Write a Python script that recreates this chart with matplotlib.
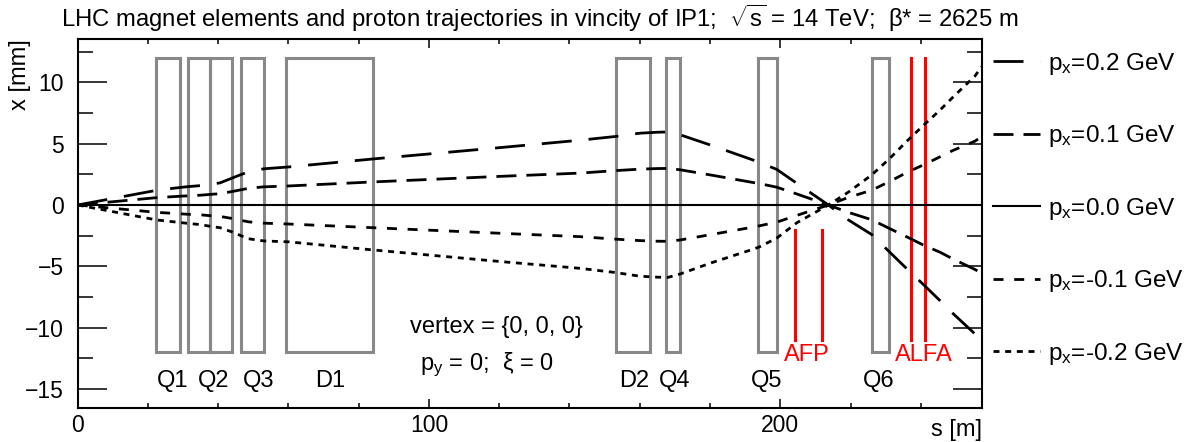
import matplotlib

matplotlib.use("Agg")
import matplotlib.pyplot as plt
from matplotlib.patches import Rectangle
from matplotlib.ticker import MultipleLocator

plt.rcParams["font.family"] = ["Liberation Sans", "DejaVu Sans"]
plt.rcParams["mathtext.fontset"] = "custom"
plt.rcParams["mathtext.rm"] = "Liberation Sans"
plt.rcParams["mathtext.it"] = "Liberation Sans:italic"
plt.rcParams["lines.scale_dashes"] = False

# s position along the beam line [m]
s_pts = [0, 22.5, 29.5, 31.5, 35, 38, 40.5, 44, 46.5, 48.6, 53, 60, 84, 120,
         143, 153, 160, 165, 168, 171.5, 180.5, 192.3, 194, 199, 204.7, 213.7,
         219.4, 226, 231, 236.4, 241, 245.5, 249.2, 255.4, 257.3]

# horizontal position x [mm] for each px
x_p02 = [0, 1.2, 1.44, 1.5, 1.58, 1.7, 1.8, 2.2, 2.48, 2.71, 2.95, 3.1, 3.75,
         4.67, 5.28, 5.58, 5.85, 5.93, 5.95, 5.72, 4.85, 3.66, 3.48, 2.9, 1.77,
         0, -1.22, -2.4, -3.8, -5.3, -6.55, -7.8, -8.85, -10.5, -11.0]
x_p01 = [0, 0.6, 0.72, 0.75, 0.8, 0.87, 0.92, 1.1, 1.24, 1.36, 1.48, 1.55, 1.88,
         2.33, 2.6, 2.8, 2.92, 2.97, 2.98, 2.87, 2.43, 1.83, 1.75, 1.45, 0.9,
         0, -0.6, -1.2, -1.9, -2.65, -3.3, -3.85, -4.4, -5.25, -5.55]
x_p00 = [0] * len(s_pts)
x_m01 = [0, -0.6, -0.72, -0.76, -0.8, -0.88, -0.93, -1.1, -1.25, -1.37, -1.48,
         -1.55, -1.85, -2.3, -2.58, -2.78, -2.9, -2.95, -2.96, -2.85, -2.4,
         -1.8, -1.7, -1.4, -0.85, 0, 0.62, 1.2, 1.9, 2.7, 3.3, 3.93, 4.45, 5.2,
         5.56]
x_m02 = [0, -1.22, -1.44, -1.5, -1.6, -1.75, -1.85, -2.2, -2.5, -2.75, -2.93,
         -3.0, -3.66, -4.6, -5.16, -5.5, -5.8, -5.88, -5.9, -5.62, -4.7, -3.6,
         -3.42, -2.7, -1.45, 0, 1.05, 2.44, 3.75, 5.3, 6.55, 7.74, 8.8, 10.5,
         11.26]

px_labels = ["0.2", "0.1", "0.0", "-0.1", "-0.2"]

# magnets: start, end [m], aperture half-height [mm]
magnet_start = [22.3, 31.4, 37.6, 46.4, 59.2, 153.1, 167.6, 193.8, 226.0]
magnet_end = [29.1, 37.6, 43.8, 53.0, 84.2, 162.9, 171.4, 199.1, 231.0]
magnet_half = 12.0
label_names = ["Q1", "Q2", "Q3", "D1", "D2", "Q4", "Q5", "Q6"]
label_s = [26.9, 38.8, 51.6, 72.0, 158.5, 170.0, 196.2, 228.1]

# detectors (roman pots)
afp_s = [204.1, 211.9]
afp_x = [-2.0, -11.0]
alfa_s = [237.2, 241.1]
alfa_x = [12.0, -11.0]


def main():
    fig = plt.figure(figsize=(11.91, 4.42), dpi=100)
    ax = fig.add_axes([0.06524, 0.07805, 0.7589, 0.8330])

    for i in range(len(magnet_start)):
        ax.add_patch(Rectangle((magnet_start[i], -magnet_half),
                               magnet_end[i] - magnet_start[i], 2 * magnet_half,
                               fill=False, edgecolor="#888888", lw=2.2))
    for i in range(len(label_names)):
        ax.text(label_s[i], -14.3, label_names[i], ha="center", va="center",
                fontsize=17)

    for s in afp_s:
        ax.plot([s, s], afp_x, color="red", lw=2.2)
    for s in alfa_s:
        ax.plot([s, s], alfa_x, color="red", lw=2.2)
    ax.text(207.7, -12.2, "AFP", color="red", ha="center", va="center", fontsize=17)
    ax.text(241.0, -12.2, "ALFA", color="red", ha="center", va="center", fontsize=17)

    # trajectories
    styles = [(0, (21.6, 12.2)), (0, (14.4, 7.2)), "-", (0, (7.2, 7.7)), (0, (4.3, 4.1))]
    widths = [2.0, 2.0, 1.5, 2.0, 2.0]
    tracks = [x_p02, x_p01, x_p00, x_m01, x_m02]
    handles = []
    for i in range(len(tracks)):
        (h,) = ax.plot(s_pts, tracks[i], color="black", linestyle=styles[i],
                       lw=widths[i], dash_capstyle="butt")
        handles.append(h)

    ax.text(94.6, -9.9, "vertex = {0, 0, 0}", ha="left", va="center", fontsize=17)
    ax.text(97.4, -13.0, "p$_{\\mathrm{y}}$ = 0;  ξ = 0", ha="left", va="center",
            fontsize=17)

    ax.set_xlim(0, 257.3)
    ax.set_ylim(-16.5, 13.5)
    ax.set_xticks([0, 100, 200])
    ax.xaxis.set_minor_locator(MultipleLocator(20))
    ax.set_yticks([-15, -10, -5, 0, 5, 10])
    ax.yaxis.set_minor_locator(MultipleLocator(2.5))
    ax.tick_params(which="both", direction="in", top=True, right=True,
                   labelsize=16.5, width=1.1)
    ax.tick_params(axis="x", which="major", length=6.5, pad=5)
    ax.tick_params(axis="x", which="minor", length=3.4)
    ax.tick_params(axis="y", which="major", length=20.9, pad=10)
    ax.tick_params(axis="y", which="minor", length=10.8)
    for sp in ax.spines.values():
        sp.set_linewidth(1.5)

    ax.set_xlabel("s [m]", fontsize=17, loc="right")
    ax.xaxis.set_label_coords(1.0, -0.03)
    ax.set_ylabel("x [mm]", fontsize=17, loc="top")
    ax.yaxis.set_label_coords(-0.052, 1.0)

    labels = ["p$_{\\mathrm{x}}$=%s GeV" % p for p in px_labels]
    ax.legend(handles, labels, loc="upper left", bbox_to_anchor=(1.002, 0.995),
              bbox_transform=ax.transAxes, frameon=False, fontsize=17.5,
              handlelength=1.93, handletextpad=0.33, labelspacing=1.91,
              borderaxespad=0)

    fig.text(540 / 1191, 1 - 18 / 442,
             "LHC magnet elements and proton trajectories in vincity of IP1;  "
             "$\\sqrt{\\mathrm{s}}$ = 14 TeV;  β* = 2625 m",
             ha="center", va="center", fontsize=17.2)

    fig.savefig("out.png", dpi=100)
    plt.close("all")


if __name__ == "__main__":
    main()
